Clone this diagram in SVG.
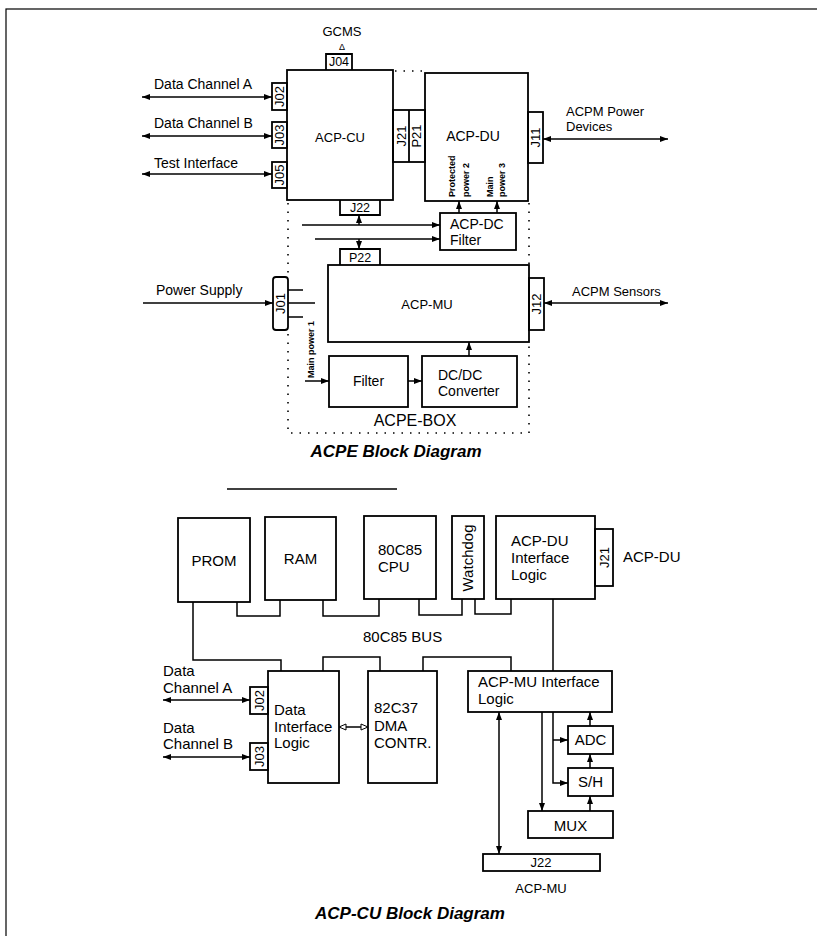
<svg xmlns="http://www.w3.org/2000/svg" width="817" height="936" viewBox="0 0 817 936">
<style>
.box{fill:none;stroke:#000;stroke-width:1.8}
.ln{fill:none;stroke:#000;stroke-width:1.5}
.dot{fill:none;stroke:#000;stroke-width:1.6;stroke-dasharray:1.5 7}
text{font-family:"Liberation Sans",Arial,sans-serif;fill:#000}
.s13{font-size:13px}
.s14{font-size:14px}
.s15{font-size:15px}
.sm{font-size:9px;font-weight:bold}
.ttl{font-size:17px;font-weight:bold;font-style:italic}
.m{text-anchor:middle}
</style>
<defs>
<marker id="ah" markerUnits="userSpaceOnUse" markerWidth="9" markerHeight="7" refX="8" refY="3.5" orient="auto-start-reverse"><path d="M0,0.5 L8,3.5 L0,6.5 z" fill="#000"/></marker>
<marker id="oh" markerUnits="userSpaceOnUse" markerWidth="9" markerHeight="8" refX="8" refY="4" orient="auto-start-reverse"><path d="M1,1 L8,4 L1,7 z" fill="#fff" stroke="#000" stroke-width="1"/></marker>
</defs>
<rect width="817" height="936" fill="#fff"/>
<rect x="6" y="9" width="830" height="950" fill="none" stroke="#000" stroke-width="1.2"/>

<!-- ===== ACPE block diagram ===== -->
<g id="gcms"><text x="342" y="36" class="s13 m">GCMS</text><text x="342" y="50" class="m" font-size="9">Δ</text></g>
<g id="j04"><path class="box" d="M326,70 V54 H352 V70"/><text x="339" y="66" class="m" font-size="12.5">J04</text></g>
<g id="acp-cu"><rect class="box" x="287" y="70" width="106" height="130"/><text x="340" y="142" class="s13 m">ACP-CU</text></g>
<g id="j02a"><rect class="box" x="272" y="83" width="15" height="27"/><text transform="translate(284,96.5) rotate(-90)" class="s13 m">J02</text></g>
<g id="j03a"><rect class="box" x="272" y="122" width="15" height="26"/><text transform="translate(284,135) rotate(-90)" class="s13 m">J03</text></g>
<g id="j05"><rect class="box" x="272" y="162" width="15" height="26"/><text transform="translate(284,175) rotate(-90)" class="s13 m">J05</text></g>
<g id="j21p21"><rect class="box" x="393" y="110" width="32" height="52"/><line class="box" x1="409" y1="110" x2="409" y2="162"/><text transform="translate(405.5,136) rotate(-90)" class="s13 m">J21</text><text transform="translate(421,136) rotate(-90)" class="s13 m">P21</text></g>
<g id="acp-du"><rect class="box" x="425" y="73" width="103" height="128"/><text x="473" y="141" class="s14 m">ACP-DU</text>
<text transform="translate(455,197) rotate(-90)" class="sm">Protected</text><text transform="translate(469,197) rotate(-90)" class="sm">power 2</text>
<text transform="translate(493,197) rotate(-90)" class="sm">Main</text><text transform="translate(505,197) rotate(-90)" class="sm">power 3</text></g>
<g id="j11"><rect class="box" x="528" y="112" width="15" height="51"/><text transform="translate(540,137.5) rotate(-90)" class="s13 m">J11</text></g>
<g id="acp-dc"><rect class="box" x="440" y="213" width="76" height="37"/><text x="450" y="229" class="s14">ACP-DC</text><text x="450" y="245" class="s14">Filter</text></g>
<g id="j22a"><path class="box" d="M340,200 V215 H380 V200"/><text x="360" y="212" class="m" font-size="12.5">J22</text></g>
<g id="p22"><path class="box" d="M340,265 V249 H380 V265"/><text x="360" y="262" class="m" font-size="12.5">P22</text></g>
<g id="acp-mu"><rect class="box" x="328" y="265" width="201" height="77"/><text x="427" y="309" class="s13 m">ACP-MU</text></g>
<g id="j12"><rect class="box" x="529" y="278" width="15" height="52"/><text transform="translate(541,304) rotate(-90)" class="s13 m">J12</text></g>
<g id="j01"><rect class="box" x="273" y="277" width="15" height="53" rx="3"/><text transform="translate(285,303.5) rotate(-90)" class="s13 m">J01</text></g>
<g id="filter"><rect class="box" x="329" y="356" width="79" height="51"/><text x="368.5" y="386" class="s14 m">Filter</text></g>
<g id="dcdc"><rect class="box" x="422" y="356" width="95" height="51"/><text x="438" y="380" class="s14">DC/DC</text><text x="438" y="396" class="s14">Converter</text></g>
<g id="acpe-box"><path class="dot" d="M395,71 H424 M288,203 V275 M288,334 V433 H529 V344 M529,203 V265"/><text x="415" y="426" class="m" font-size="16">ACPE-BOX</text></g>

<g id="labels-top">
<text x="154" y="89" class="s14">Data Channel A</text>
<text x="154" y="128" class="s14">Data Channel B</text>
<text x="154" y="168" class="s14">Test Interface</text>
<text x="566" y="116" class="s13">ACPM Power</text>
<text x="566" y="131" class="s13">Devices</text>
<text x="156" y="295" class="s14">Power Supply</text>
<text x="572" y="296" class="s13">ACPM Sensors</text>
<text transform="translate(314,378) rotate(-90)" class="sm">Main power 1</text>
<text x="396" y="457" class="ttl m">ACPE Block Diagram</text>
</g>

<g id="connectors-top">
<line class="ln" x1="142" y1="97" x2="272" y2="97" marker-start="url(#ah)" marker-end="url(#ah)"/>
<line class="ln" x1="142" y1="136" x2="272" y2="136" marker-start="url(#ah)" marker-end="url(#ah)"/>
<line class="ln" x1="142" y1="174" x2="272" y2="174" marker-start="url(#ah)" marker-end="url(#ah)"/>
<line class="ln" x1="543" y1="139" x2="668" y2="139" marker-start="url(#ah)" marker-end="url(#ah)"/>
<line class="ln" x1="459" y1="213" x2="459" y2="201" marker-end="url(#ah)"/>
<line class="ln" x1="497" y1="213" x2="497" y2="201" marker-end="url(#ah)"/>
<line class="ln" x1="302" y1="225" x2="440" y2="225" marker-end="url(#ah)"/>
<line class="ln" x1="315" y1="239" x2="440" y2="239" marker-end="url(#ah)"/>
<line class="ln" x1="359" y1="225" x2="359" y2="215" marker-end="url(#ah)"/>
<line class="ln" x1="359" y1="239" x2="359" y2="249" marker-end="url(#ah)"/>
<line class="ln" x1="143" y1="303" x2="273" y2="303" marker-end="url(#ah)"/>
<path class="ln" d="M288,290 H303 M288,303 H315 M288,317 H303"/>
<line class="ln" x1="544" y1="303" x2="668" y2="303" marker-start="url(#ah)" marker-end="url(#ah)"/>
<line class="ln" x1="305" y1="381" x2="329" y2="381" marker-end="url(#ah)"/>
<line class="ln" x1="408" y1="381" x2="422" y2="381" marker-end="url(#ah)"/>
<line class="ln" x1="469" y1="356" x2="469" y2="342" marker-end="url(#ah)"/>
</g>

<line class="ln" x1="227" y1="489" x2="397" y2="489"/>

<!-- ===== ACP-CU block diagram ===== -->
<g id="prom"><rect class="box" x="178" y="518" width="72" height="84"/><text x="214" y="566" class="s15 m">PROM</text></g>
<g id="ram"><rect class="box" x="265" y="517" width="71" height="83"/><text x="300.5" y="564" class="s15 m">RAM</text></g>
<g id="cpu"><rect class="box" x="364" y="516" width="72" height="83"/><text x="378" y="555" class="s15">80C85</text><text x="378" y="572" class="s15">CPU</text></g>
<g id="watchdog"><rect class="box" x="452" y="516" width="32" height="83"/><text transform="translate(473,558) rotate(-90)" class="s15 m">Watchdog</text></g>
<g id="du-il"><rect class="box" x="496" y="516" width="99" height="83"/><text x="511" y="546" class="s15">ACP-DU</text><text x="511" y="563" class="s15">Interface</text><text x="511" y="580" class="s15">Logic</text></g>
<g id="j21b"><rect class="box" x="595" y="529" width="18" height="57"/><text transform="translate(608.5,557.5) rotate(-90)" class="s13 m">J21</text></g>
<text x="623" y="562" class="s15">ACP-DU</text>
<text x="363" y="642" class="s15">80C85 BUS</text>
<g id="dil"><rect class="box" x="268" y="671" width="71" height="112"/><text x="274" y="715" class="s15">Data</text><text x="274" y="732" class="s15">Interface</text><text x="274" y="748" class="s15">Logic</text></g>
<g id="dma"><rect class="box" x="368" y="671" width="69" height="112"/><text x="374" y="713" class="s15">82C37</text><text x="374" y="731" class="s15">DMA</text><text x="374" y="748" class="s15">CONTR.</text></g>
<g id="j02b"><rect class="box" x="250" y="687" width="18" height="27"/><text transform="translate(263.5,700.5) rotate(-90)" class="s13 m">J02</text></g>
<g id="j03b"><rect class="box" x="250" y="743" width="18" height="27"/><text transform="translate(263.5,756.5) rotate(-90)" class="s13 m">J03</text></g>
<text x="163" y="676" class="s15">Data</text><text x="163" y="693" class="s15">Channel A</text>
<text x="163" y="733" class="s15">Data</text><text x="163" y="749" class="s15">Channel B</text>
<g id="mu-il"><rect class="box" x="468" y="671" width="144" height="41"/><text x="478" y="687" class="s15">ACP-MU Interface</text><text x="478" y="704" class="s15">Logic</text></g>
<g id="adc"><rect class="box" x="568" y="726" width="45" height="28"/><text x="590.5" y="745" class="s15 m">ADC</text></g>
<g id="sh"><rect class="box" x="568" y="768" width="45" height="28"/><text x="590.5" y="787" class="s15 m">S/H</text></g>
<g id="mux"><rect class="box" x="528" y="811" width="85" height="27"/><text x="570.5" y="831" class="s15 m">MUX</text></g>
<g id="j22b"><rect class="box" x="483" y="854" width="117" height="17"/><text x="541" y="867" class="s13 m">J22</text></g>
<text x="541" y="893" class="s13 m">ACP-MU</text>
<text x="410" y="919" class="ttl m">ACP-CU Block Diagram</text>

<g id="connectors-bottom">
<path class="ln" d="M193,602 V660 H281 V671"/>
<path class="ln" d="M237,602 V616 H280 V600"/>
<path class="ln" d="M323,600 V616 H379 V599"/>
<path class="ln" d="M419,599 V615 H462 V599"/>
<path class="ln" d="M475,599 V614 H511 V599"/>
<path class="ln" d="M553,599 V671"/>
<path class="ln" d="M323,671 V657 H380 V671"/>
<path class="ln" d="M423,671 V657 H511 V671"/>
<line class="ln" x1="163" y1="700" x2="250" y2="700" marker-start="url(#ah)" marker-end="url(#ah)"/>
<line class="ln" x1="163" y1="757" x2="250" y2="757" marker-start="url(#ah)" marker-end="url(#ah)"/>
<line class="ln" x1="339" y1="727" x2="368" y2="727" marker-start="url(#oh)" marker-end="url(#oh)"/>
<line class="ln" x1="542" y1="712" x2="542" y2="811" marker-end="url(#ah)"/>
<path class="ln" d="M553,712 V783 H568" marker-end="url(#ah)"/>
<line class="ln" x1="553" y1="740" x2="568" y2="740" marker-end="url(#ah)"/>
<line class="ln" x1="590" y1="726" x2="590" y2="712" marker-end="url(#ah)"/>
<line class="ln" x1="590" y1="768" x2="590" y2="754" marker-end="url(#ah)"/>
<line class="ln" x1="590" y1="811" x2="590" y2="796" marker-end="url(#ah)"/>
<line class="ln" x1="499" y1="712" x2="499" y2="854" marker-start="url(#ah)" marker-end="url(#ah)"/>
</g>
</svg>
